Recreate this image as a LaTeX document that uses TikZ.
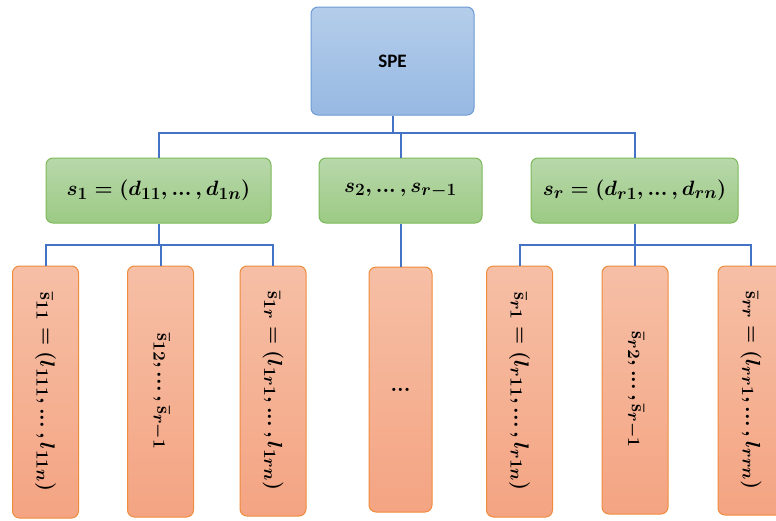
\documentclass[tikz,border=0pt]{standalone}
\usepackage{fontspec}
\usepackage{amsmath}
\newfontfamily\headfont{Carlito}
% larger sub/superscripts for the box formulas
\DeclareMathSizes{20}{20}{16}{12}
\definecolor{speTop}{HTML}{B4CDEA}
\definecolor{speBot}{HTML}{97B9E3}
\definecolor{speLine}{HTML}{6E9BD4}
\definecolor{grnTop}{HTML}{B8D8AB}
\definecolor{grnBot}{HTML}{9CCA84}
\definecolor{grnLine}{HTML}{7DB95B}
\definecolor{orgTop}{HTML}{F6BFA6}
\definecolor{orgBot}{HTML}{F4A482}
\definecolor{orgLine}{HTML}{EF8B3C}
\definecolor{connC}{HTML}{4472C4}
\tikzset{
  box/.style={rounded corners=7pt, line width=1pt, inner sep=0pt, anchor=center},
  rootbox/.style={box, draw=speLine, top color=speTop, bottom color=speBot,
    minimum width=163pt, minimum height=108pt, font=\headfont\bfseries\fontsize{19}{22}\selectfont},
  setbox/.style={box, draw=grnLine, top color=grnTop, bottom color=grnBot,
    minimum height=65pt, font=\boldmath\fontsize{20}{24}\selectfont},
  leafbox/.style={box, draw=orgLine, top color=orgTop, bottom color=orgBot,
    minimum width=66pt, font=\boldmath\fontsize{20}{24}\selectfont},
  conn/.style={connC, line width=2pt}
}
\newcommand{\vtext}[1]{\rotatebox{-90}{$#1$}}
\newcommand{\sbar}{\bar{\mathrm{s}}}
% compact ellipsis
\newcommand{\dts}{\mathinner{...}}
\begin{document}
\begin{tikzpicture}[x=1pt,y=-1pt]
\useasboundingbox (0,0) rectangle (776,520);
\clip (0,0) rectangle (776,520);

% root
\node[rootbox] (spe) at (392.5,61) {SPE};

% second level
\node[setbox, minimum width=225pt] (g1) at (158.5,190.5) {$s_1 = (d_{11}, \dts, d_{1n})$};
\node[setbox, minimum width=163pt] (g2) at (400.5,190.5) {$s_2, \dts, s_{r-1}$};
\node[setbox, minimum width=207pt] (g3) at (634.5,190.5) {$s_r = (d_{r1}, \dts, d_{rn})$};

% leaves
\node[leafbox, minimum height=252pt] (o1) at (45.5,392) {\vtext{\sbar_{11} = (l_{111}, \dts, l_{11n})}};
\node[leafbox, minimum height=251pt] (o2) at (160.5,391.5) {\vtext{\sbar_{12}, \dts, \sbar_{r-1}}};
\node[leafbox, minimum height=250pt] (o3) at (273,391) {\vtext{\sbar_{1r} = (l_{1r1}, \dts, l_{1rn})}};
\node[leafbox, minimum width=63pt, minimum height=245pt] (om) at (400.5,389.5) {$\dts$};
\node[leafbox, minimum height=251pt] (o4) at (519.5,391.5) {\vtext{\sbar_{r1} = (l_{r11}, \dts, l_{r1n})}};
\node[leafbox, minimum height=248pt] (o5) at (635,390) {\vtext{\sbar_{r2}, \dts, \sbar_{r-1}}};
\node[leafbox, minimum height=249pt] (o6) at (751,390.5) {\vtext{\sbar_{rr} = (l_{rr1}, \dts, l_{rrn})}};

% bus levels
\coordinate (busA) at (392.5,133);
\coordinate (busL) at (158.5,245);
\coordinate (busR) at (634.5,245);

% root to second level
\draw[conn] (spe.south) -- (busA);
\draw[conn] (g1.north) |- (busA) -| (g3.north);
\draw[conn] (g2.north) -- (g2.north |- busA);

% first group
\draw[conn] (g1.south) -- (busL);
\draw[conn] (o1.north) |- (busL) -| (o3.north);
\draw[conn] (o2.north) -- (o2.north |- busL);

% middle group
\draw[conn] (g2.south) -- (om.north);

% last group
\draw[conn] (g3.south) -- (busR);
\draw[conn] (o4.north) |- (busR) -| (o6.north);
\draw[conn] (o5.north) -- (o5.north |- busR);
\end{tikzpicture}
\end{document}
